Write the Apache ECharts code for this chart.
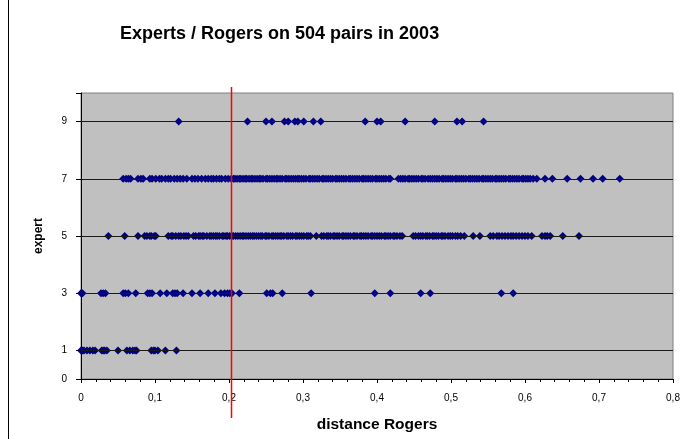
<!DOCTYPE html>
<html>
<head>
<meta charset="utf-8">
<script src="https://cdn.jsdelivr.net/npm/echarts@6/dist/echarts.min.js"></script>
<style>
html,body{margin:0;padding:0;background:#fff;}
#c{width:685px;height:439px;}
</style>
</head>
<body>
<div id="c"></div>
<script>
const titleText = 'Experts / Rogers on 504 pairs in 2003';
const xName = 'distance Rogers';
const yName = 'expert';
const yTickValues = [0, 1, 3, 5, 7, 9, 10];
const yLabelValues = [0, 1, 3, 5, 7, 9];
const gridLevels = [1, 3, 5, 7, 9];
const thresholdX = 0.203;

const expertLevels = [1, 3, 5, 7, 9];
const row1 = [0.000, 0.002, 0.004, 0.008, 0.012, 0.016, 0.019, 0.028, 0.030, 0.032, 0.035, 0.050, 0.062, 0.066, 0.070, 0.073, 0.075, 0.095, 0.098, 0.100, 0.104, 0.114, 0.129];
const row3 = [0.000, 0.002, 0.027, 0.030, 0.033, 0.057, 0.060, 0.064, 0.074, 0.090, 0.093, 0.096, 0.107, 0.116, 0.124, 0.127, 0.130, 0.138, 0.150, 0.161, 0.172, 0.181, 0.189, 0.194, 0.198, 0.201, 0.204, 0.214, 0.251, 0.256, 0.259, 0.272, 0.311, 0.397, 0.418, 0.459, 0.472, 0.568, 0.584];
const row5 = [0.037, 0.059, 0.077, 0.086, 0.089, 0.093, 0.095, 0.099, 0.101, 0.118, 0.122, 0.124, 0.128, 0.132, 0.135, 0.139, 0.142, 0.145, 0.152, 0.155, 0.159, 0.161, 0.164, 0.166, 0.170, 0.174, 0.176, 0.179, 0.182, 0.184, 0.187, 0.191, 0.193, 0.196, 0.198, 0.201, 0.204, 0.206, 0.209, 0.212, 0.215, 0.218, 0.220, 0.223, 0.226, 0.229, 0.232, 0.234, 0.237, 0.240, 0.243, 0.245, 0.249, 0.251, 0.254, 0.258, 0.260, 0.263, 0.266, 0.269, 0.271, 0.274, 0.278, 0.280, 0.283, 0.286, 0.290, 0.292, 0.295, 0.298, 0.301, 0.305, 0.307, 0.310, 0.318, 0.325, 0.328, 0.332, 0.334, 0.337, 0.341, 0.343, 0.346, 0.349, 0.353, 0.355, 0.358, 0.361, 0.364, 0.368, 0.370, 0.373, 0.377, 0.379, 0.382, 0.385, 0.388, 0.392, 0.394, 0.397, 0.400, 0.403, 0.406, 0.410, 0.412, 0.415, 0.418, 0.422, 0.424, 0.427, 0.431, 0.434, 0.449, 0.452, 0.456, 0.459, 0.462, 0.466, 0.468, 0.471, 0.475, 0.477, 0.480, 0.483, 0.487, 0.489, 0.492, 0.496, 0.499, 0.502, 0.506, 0.509, 0.513, 0.518, 0.530, 0.539, 0.553, 0.557, 0.562, 0.565, 0.569, 0.573, 0.577, 0.581, 0.584, 0.588, 0.592, 0.596, 0.600, 0.604, 0.609, 0.623, 0.627, 0.630, 0.634, 0.651, 0.673];
const row7 = [0.057, 0.061, 0.064, 0.067, 0.077, 0.081, 0.084, 0.093, 0.096, 0.101, 0.106, 0.109, 0.114, 0.118, 0.121, 0.126, 0.130, 0.134, 0.138, 0.143, 0.150, 0.154, 0.158, 0.163, 0.168, 0.172, 0.176, 0.179, 0.183, 0.187, 0.190, 0.195, 0.199, 0.203, 0.206, 0.208, 0.211, 0.214, 0.216, 0.219, 0.222, 0.224, 0.227, 0.230, 0.232, 0.235, 0.238, 0.241, 0.243, 0.246, 0.250, 0.252, 0.255, 0.258, 0.261, 0.264, 0.266, 0.269, 0.272, 0.276, 0.278, 0.281, 0.284, 0.287, 0.290, 0.293, 0.295, 0.298, 0.301, 0.304, 0.308, 0.310, 0.313, 0.316, 0.319, 0.322, 0.326, 0.328, 0.331, 0.334, 0.337, 0.340, 0.344, 0.346, 0.349, 0.352, 0.355, 0.358, 0.362, 0.364, 0.367, 0.370, 0.373, 0.376, 0.380, 0.382, 0.385, 0.388, 0.391, 0.394, 0.398, 0.400, 0.403, 0.406, 0.409, 0.412, 0.416, 0.418, 0.429, 0.432, 0.435, 0.438, 0.442, 0.444, 0.447, 0.450, 0.453, 0.456, 0.460, 0.462, 0.465, 0.469, 0.472, 0.475, 0.478, 0.481, 0.484, 0.488, 0.490, 0.493, 0.496, 0.499, 0.502, 0.506, 0.508, 0.511, 0.514, 0.517, 0.520, 0.524, 0.526, 0.529, 0.532, 0.535, 0.538, 0.542, 0.544, 0.547, 0.550, 0.553, 0.556, 0.560, 0.562, 0.565, 0.568, 0.571, 0.574, 0.578, 0.580, 0.583, 0.586, 0.589, 0.592, 0.596, 0.598, 0.601, 0.604, 0.607, 0.611, 0.616, 0.627, 0.637, 0.657, 0.675, 0.692, 0.705, 0.728];
const row9 = [0.132, 0.225, 0.250, 0.258, 0.275, 0.280, 0.289, 0.293, 0.301, 0.314, 0.324, 0.384, 0.400, 0.405, 0.438, 0.478, 0.508, 0.515, 0.544];

const rows = [row1, row3, row5, row7, row9];
const points = [];
rows.forEach((r, i) => r.forEach(x => points.push([x, expertLevels[i]])));

const FONT = 'Arial, "Liberation Sans", sans-serif';
const chart = echarts.init(document.getElementById('c'), null, {renderer: 'canvas'});
chart.setOption({
  animation: false,
  backgroundColor: '#ffffff',
  title: {
    text: titleText, left: 115, top: 20,
    textStyle: {fontFamily: FONT, fontWeight: 'bold', fontSize: 18, color: '#000'}
  },
  grid: {
    left: 81, right: 12, top: 93, bottom: 60,
    show: true, backgroundColor: '#c0c0c0', borderColor: '#808080', borderWidth: 1
  },
  xAxis: {
    type: 'value', min: 0, max: 0.8, interval: 0.1,
    name: xName, nameLocation: 'middle', nameGap: 38,
    nameTextStyle: {fontFamily: FONT, fontWeight: 'bold', fontSize: 15.5, color: '#000'},
    axisLine: {show: true, onZero: false, lineStyle: {color: '#000', width: 1}},
    axisTick: {show: true, length: 4, lineStyle: {color: '#000'}},
    minorTick: {show: true, splitNumber: 5, length: 3, lineStyle: {color: '#000'}},
    splitLine: {show: false},
    axisLabel: {
      fontFamily: FONT, fontSize: 10, color: '#000', margin: 14,
      formatter: v => String(Math.round(v * 10) / 10).replace('.', ',')
    }
  },
  yAxis: {
    type: 'value', min: 0, max: 10, interval: 1,
    name: yName, nameLocation: 'middle', nameGap: 36, nameRotate: 90,
    nameTextStyle: {fontFamily: FONT, fontWeight: 'bold', fontSize: 12, color: '#000'},
    axisLine: {show: true, onZero: false, lineStyle: {color: '#000', width: 1}},
    axisTick: {show: true, length: 5, customValues: yTickValues, lineStyle: {color: '#000'}},
    splitLine: {show: false},
    axisLabel: {fontFamily: FONT, fontSize: 10, color: '#000', margin: 14, customValues: yLabelValues}
  },
  series: [{
    type: 'scatter',
    data: points,
    symbol: 'diamond',
    symbolSize: [8, 8],
    itemStyle: {color: '#000080', opacity: 1},
    z: 3,
    markLine: {
      silent: true, symbol: 'none', animation: false,
      label: {show: false},
      lineStyle: {color: '#1a1a1a', width: 1, type: 'solid'},
      data: gridLevels.map(v => ({yAxis: v}))
    }
  }]
});

const px = Math.round(chart.convertToPixel({xAxisIndex: 0}, thresholdX)) + 0.5;
chart.setOption({
  graphic: [
    {type: 'rect', shape: {x: px - 0.75, y: 87, width: 1.5, height: 331}, style: {fill: '#ff0000', stroke: null}, z: 100, zlevel: 1, silent: true},
    {type: 'rect', shape: {x: 8, y: 0, width: 1, height: 439}, style: {fill: '#000000', stroke: null}, z: 100, silent: true}
  ]
});
</script>
</body>
</html>
